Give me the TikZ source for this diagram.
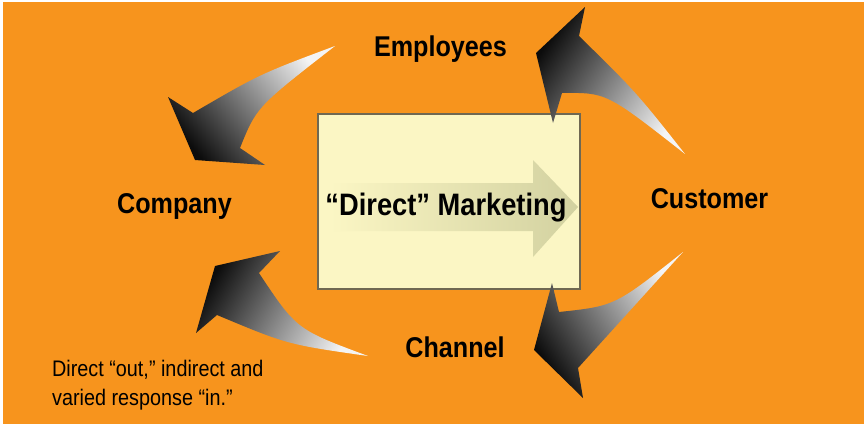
\documentclass[tikz,border=0pt]{standalone}
\usepackage{fontspec}
\setmainfont{Liberation Sans}[FakeStretch=0.88]
\usepackage{xcolor}
\usepackage{tikz}
\usetikzlibrary{shapes,arrows,positioning}

\definecolor{bgorange}{HTML}{F7941D}
\definecolor{boxfill}{HTML}{FBF6C4}
\definecolor{boxline}{HTML}{6F6852}
\definecolor{boxarrow}{HTML}{D2D1A0}
\definecolor{tailgray}{HTML}{F4F4F4}
\definecolor{headblack}{HTML}{0C0C0C}

\begin{document}
\begin{tikzpicture}[x=1pt, y=1pt,
    swoosh/.style={top color=tailgray, bottom color=headblack},
    partytext/.style={font=\bfseries\fontsize{28.6}{30}\selectfont, inner sep=0pt, anchor=base}]
    \useasboundingbox (0,0) rectangle (864,424);
    \fill[white] (0,0) rectangle (864,424);
    \fill[bgorange] (3,0) rectangle (864,422);

    % centre box with its faded arrow
    \node[draw=boxline, fill=boxfill, line width=1.2pt, minimum width=262pt, minimum height=175pt, inner sep=0pt] (mkt) at (449,222.5) {};
    \shade[left color=boxfill, right color=boxarrow]
        (330,193) -- (330,241) -- (533,241) -- (533,264) -- (578,217) -- (533,167) -- (533,193) -- cycle;
    \node[font=\bfseries\fontsize{31}{33}\selectfont, inner sep=0pt, anchor=base] (mkttext) at (446,209) {“Direct” Marketing};

    % the four parties
    \node[partytext] (employees) at (440.5,367.3) {Employees};
    \node[partytext] (company) at (174.5,211) {Company};
    \node[partytext] (customer) at (709.5,216) {Customer};
    \node[partytext] (channel) at (455,67) {Channel};

    % curved arrows round the box
    \shade[swoosh, shading angle=-51]
        (335,378) .. controls (260,350) .. (193,311) -- (168,327) -- (195,264)
        -- (265,259) -- (240,276) .. controls (256.5,317) .. (335,378) -- cycle;
    \shade[swoosh, shading angle=-124]
        (685,270) .. controls (636,332) .. (579,388) -- (585,417) -- (536,371)
        -- (553,301) -- (562,331) .. controls (606.5,331.5) .. (685,270) -- cycle;
    \shade[swoosh, shading angle=-57]
        (683,172) .. controls (615,118) .. (559,112) -- (552,141) -- (534,74)
        -- (583,26) -- (578,56) -- (683,172) -- cycle;
    \shade[swoosh, shading angle=-120]
        (368,68) .. controls (296.5,94.5) .. (259,151) -- (280,173) -- (215,158)
        -- (196,91) -- (217,109) .. controls (287.5,79.5) .. (368,68) -- cycle;

    \node[font=\fontsize{22.5}{29}\selectfont, inner sep=0pt, anchor=north west, align=left] (note) at (52,64.5)
        {Direct “out,” indirect and\\varied response “in.”};
\end{tikzpicture}
\end{document}
